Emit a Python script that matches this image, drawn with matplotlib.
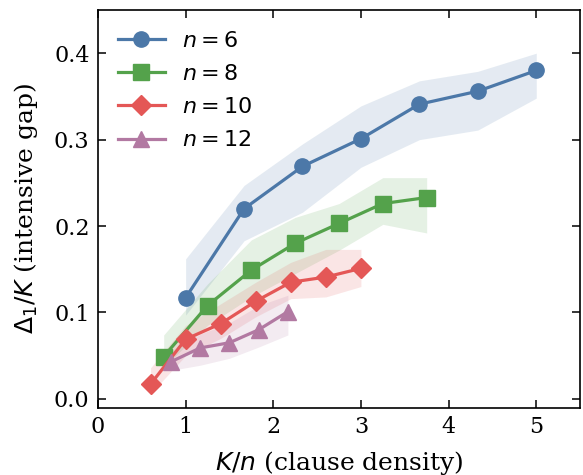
import matplotlib
matplotlib.use("Agg")
import matplotlib.pyplot as plt
import numpy as np

plt.rcParams['font.family'] = 'DejaVu Serif'
plt.rcParams['mathtext.fontset'] = 'dejavusans'

# n = 6
x6 = [1.0, 1.667, 2.333, 3.0, 3.667, 4.333, 5.0]
y6 = [0.117, 0.220, 0.269, 0.301, 0.341, 0.356, 0.380]
lo6 = [0.097, 0.183, 0.216, 0.268, 0.300, 0.311, 0.348]
hi6 = [0.162, 0.247, 0.295, 0.339, 0.368, 0.379, 0.400]
# n = 8
x8 = [0.75, 1.25, 1.75, 2.25, 2.75, 3.25, 3.75]
y8 = [0.049, 0.108, 0.149, 0.180, 0.203, 0.226, 0.233]
lo8 = [0.037, 0.085, 0.118, 0.145, 0.172, 0.202, 0.192]
hi8 = [0.074, 0.133, 0.184, 0.210, 0.226, 0.256, 0.256]
# n = 10
x10 = [0.6, 1.0, 1.4, 1.8, 2.2, 2.6, 3.0]
y10 = [0.017, 0.069, 0.087, 0.113, 0.135, 0.141, 0.151]
lo10 = [0.006, 0.050, 0.070, 0.095, 0.116, 0.118, 0.130]
hi10 = [0.036, 0.085, 0.110, 0.135, 0.158, 0.173, 0.173]
# n = 12
x12 = [0.833, 1.167, 1.5, 1.833, 2.167]
y12 = [0.043, 0.059, 0.065, 0.080, 0.101]
lo12 = [0.033, 0.039, 0.047, 0.060, 0.074]
hi12 = [0.055, 0.075, 0.088, 0.108, 0.120]

series = [
    (x6, y6, lo6, hi6, '#4C78A8', 'o', r'$n = 6$'),
    (x8, y8, lo8, hi8, '#54A24B', 's', r'$n = 8$'),
    (x10, y10, lo10, hi10, '#E45756', 'D', r'$n = 10$'),
    (x12, y12, lo12, hi12, '#B279A2', '^', r'$n = 12$'),
]

fig = plt.figure(figsize=(5.83, 4.75), dpi=100)
ax = fig.add_axes([0.168, 0.142, 0.827, 0.837])

for x, y, lo, hi, c, m, lab in series:
    ax.fill_between(x, lo, hi, color=c, alpha=0.15, linewidth=0)
for x, y, lo, hi, c, m, lab in series:
    ms = 11 if m != 'D' else 10
    ax.plot(x, y, color=c, marker=m, markersize=ms, linewidth=2.3, label=lab)

ax.set_xlim(0, 5.5)
ax.set_ylim(-0.01, 0.45)
ax.set_xticks([0, 1, 2, 3, 4, 5])
ax.set_yticks([0.0, 0.1, 0.2, 0.3, 0.4])
ax.set_yticklabels(['0.0', '0.1', '0.2', '0.3', '0.4'])
ax.tick_params(direction='in', top=True, right=True, length=6, width=1.1,
               labelsize=16, pad=6)
for s in ax.spines.values():
    s.set_linewidth(1.2)

ax.set_xlabel(r'$K/n$ (clause density)', fontsize=18, labelpad=8)
ax.set_ylabel(r'$\Delta_1/K$ (intensive gap)', fontsize=18, labelpad=10)

ax.legend(loc='upper left', frameon=False, fontsize=16, handlelength=2.1,
          handletextpad=0.8, labelspacing=0.5, borderaxespad=0.5)

fig.savefig('out.png', dpi=100)
